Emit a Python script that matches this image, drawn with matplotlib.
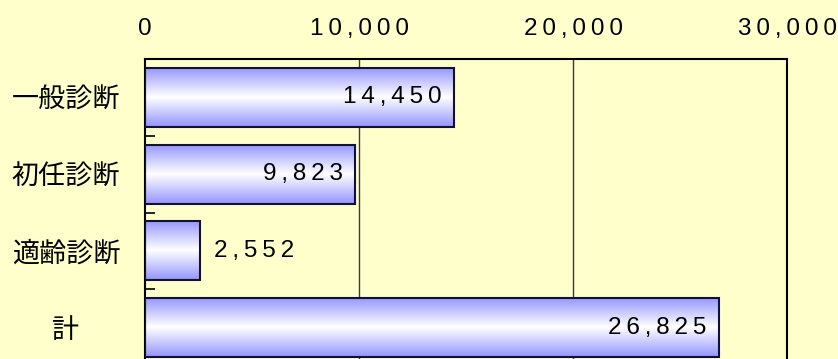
import matplotlib
matplotlib.use("Agg")
import matplotlib.pyplot as plt
import numpy as np
from matplotlib.ticker import FuncFormatter, FixedLocator
from matplotlib.patches import Rectangle

categories = ["一般診断", "初任診断", "適齢診断", "計"]
values = [14450, 9823, 2552, 26825]
xticks = [0, 10000, 20000, 30000]

BG = "#FFFFCC"
EDGE_RGB = np.array([0.58, 0.58, 1.0])
NUM_FONT = ["Liberation Sans", "DejaVu Sans"]
CJK_FONT = ["Noto Sans CJK JP", "DejaVu Sans"]


def spaced(s):
    return "\u2009".join(s)


fig = plt.figure(figsize=(8.38, 3.59), dpi=100, facecolor=BG)
ax = fig.add_axes([145 / 838, -7 / 359, 642 / 838, 307 / 359])
ax.set_facecolor(BG)

n = len(categories)
ypos = np.arange(n)
bar_h = 0.77

# gridlines
for xv in xticks[1:-1]:
    ax.axvline(xv, color="#3c3c2c", lw=1.0, zorder=1)

# gradient
t = np.linspace(-1, 1, 256)
w = np.abs(t)[:, None]
grad = (1 - w)[..., None] * np.ones(3) + w[..., None] * EDGE_RGB
grad = np.repeat(grad, 2, axis=1)

bars = ax.barh(ypos, values, height=bar_h, color="none",
               edgecolor="#111133", linewidth=1.5, zorder=3)
for b in bars:
    x0, y0 = b.get_x(), b.get_y()
    bw, bh = b.get_width(), b.get_height()
    im = ax.imshow(grad, extent=[x0, x0 + bw, y0 + bh, y0], aspect="auto",
                   origin="upper", zorder=2, interpolation="bilinear")
    clip = Rectangle((x0, y0), bw, bh, transform=ax.transData)
    im.set_clip_path(clip)
ax.set_xlim(0, 30000)
ax.set_ylim(n - 0.5, -0.5)

# value labels
for yv, v in zip(ypos, values):
    txt = spaced(f"{v:,}")
    if v > 5000:
        ax.annotate(txt, (v, yv), xytext=(-9, 0), textcoords="offset points",
                    ha="right", va="center", fontsize=17.5, family=NUM_FONT,
                    color="black", zorder=5)
    else:
        ax.annotate(txt, (v, yv), xytext=(10, 0), textcoords="offset points",
                    ha="left", va="center", fontsize=17.5, family=NUM_FONT,
                    color="black", zorder=5)

# x axis on top
ax.xaxis.tick_top()
ax.xaxis.set_major_locator(FixedLocator(xticks))
ax.xaxis.set_major_formatter(FuncFormatter(lambda x, p: spaced(f"{x:,.0f}")))
ax.tick_params(axis="x", which="both", length=0, pad=14, labelsize=17.5)
for lab in ax.get_xticklabels():
    lab.set_family(NUM_FONT)

# y axis
ax.set_yticks(ypos)
ax.set_yticklabels(categories, family=CJK_FONT, fontsize=19.5, ha="center")
ax.tick_params(axis="y", which="major", length=0, pad=57)
ax.set_yticks(np.arange(n) - 0.5, minor=True)
ax.tick_params(axis="y", which="minor", direction="in", length=7,
               width=1.2, color="black")

for s in ["left", "top", "right"]:
    ax.spines[s].set_color("black")
    ax.spines[s].set_linewidth(1.5)
ax.spines["bottom"].set_visible(False)

fig.savefig("out.png", dpi=100, facecolor=BG)
